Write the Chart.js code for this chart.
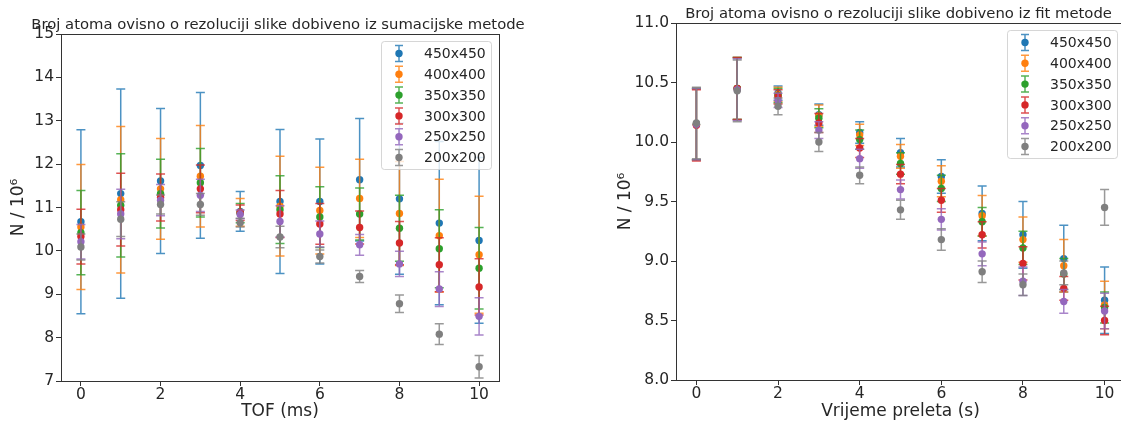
<!DOCTYPE html>
<html><head><meta charset="utf-8">
<script src="https://cdn.jsdelivr.net/npm/chart.js@4.4.1/dist/chart.umd.min.js"></script>
<style>
html,body{margin:0;padding:0;background:#fff;overflow:hidden;width:1121px;height:423px;position:relative;}
#c1{position:absolute;left:0;top:0;width:560px;height:423px;}
#c2{position:absolute;left:560px;top:0;width:600px;height:423px;}
</style></head><body>
<canvas id="c1" width="560" height="423"></canvas>
<canvas id="c2" width="600" height="423"></canvas>
<script>
// ---------- DATA ----------
const xValues = [0, 1, 2, 3, 4, 5, 6, 7, 8, 9, 10];
const xTicks = [0, 2, 4, 6, 8, 10];
const seriesLabels = ['450x450', '400x400', '350x350', '300x300', '250x250', '200x200'];
const seriesColors = ['#1f77b4', '#ff7f0e', '#2ca02c', '#d62728', '#9467bd', '#7f7f7f'];

// Left: summation method (N / 10^6)
const sum450 = [10.67, 11.32, 11.61, 11.97, 10.91, 11.14, 11.14, 11.64, 11.20, 10.64, 10.24];
const sum450Err = [2.12, 2.41, 1.67, 1.68, 0.46, 1.66, 1.44, 1.41, 1.74, 1.88, 1.91];
const sum400 = [10.55, 11.18, 11.43, 11.72, 10.89, 11.03, 10.93, 11.21, 10.86, 10.35, 9.91];
const sum400Err = [1.44, 1.69, 1.16, 1.17, 0.32, 1.15, 1.00, 0.90, 1.20, 1.30, 1.35];
const sum350 = [10.42, 11.05, 11.32, 11.57, 10.87, 10.95, 10.78, 10.85, 10.52, 10.05, 9.60];
const sum350Err = [0.97, 1.19, 0.79, 0.79, 0.22, 0.78, 0.70, 0.60, 0.76, 0.90, 0.94];
const sum300 = [10.33, 10.95, 11.23, 11.43, 10.88, 10.85, 10.62, 10.54, 10.18, 9.68, 9.17];
const sum300Err = [0.63, 0.84, 0.54, 0.55, 0.18, 0.54, 0.47, 0.38, 0.50, 0.62, 0.65];
const sum250 = [10.21, 10.85, 11.17, 11.28, 10.84, 10.68, 10.39, 10.14, 9.70, 9.12, 8.49];
const sum250Err = [0.40, 0.57, 0.36, 0.37, 0.10, 0.36, 0.30, 0.24, 0.29, 0.40, 0.43];
const sum200 = [10.09, 10.73, 11.07, 11.07, 10.65, 10.32, 9.87, 9.41, 8.78, 8.08, 7.33];
const sum200Err = [0.30, 0.40, 0.22, 0.25, 0.10, 0.25, 0.15, 0.14, 0.20, 0.24, 0.26];

// Right: fit method (N / 10^6)
const fit450 = [10.15, 10.45, 10.41, 10.23, 10.08, 9.91, 9.71, 9.40, 9.22, 9.02, 8.67];
const fit450Err = [0.30, 0.26, 0.06, 0.09, 0.09, 0.12, 0.14, 0.23, 0.28, 0.28, 0.28];
const fit400 = [10.15, 10.45, 10.40, 10.22, 10.06, 9.88, 9.67, 9.38, 9.18, 8.96, 8.63];
const fit400Err = [0.30, 0.26, 0.06, 0.09, 0.09, 0.10, 0.13, 0.17, 0.19, 0.22, 0.20];
const fit350 = [10.15, 10.45, 10.39, 10.20, 10.02, 9.82, 9.61, 9.33, 9.11, 8.89, 8.61];
const fit350Err = [0.30, 0.26, 0.06, 0.08, 0.08, 0.09, 0.11, 0.12, 0.14, 0.13, 0.13];
const fit300 = [10.14, 10.45, 10.38, 10.16, 9.95, 9.73, 9.51, 9.22, 8.98, 8.77, 8.50];
const fit300Err = [0.30, 0.26, 0.06, 0.08, 0.08, 0.08, 0.10, 0.11, 0.14, 0.10, 0.12];
const fit250 = [10.15, 10.44, 10.35, 10.10, 9.86, 9.60, 9.35, 9.06, 8.83, 8.66, 8.58];
const fit250Err = [0.30, 0.26, 0.06, 0.07, 0.08, 0.08, 0.09, 0.10, 0.12, 0.10, 0.15];
const fit200 = [10.16, 10.43, 10.30, 10.00, 9.72, 9.43, 9.18, 8.91, 8.80, 8.90, 9.45];
const fit200Err = [0.30, 0.26, 0.07, 0.08, 0.07, 0.08, 0.09, 0.09, 0.09, 0.10, 0.15];

const leftTitle = 'Broj atoma ovisno o rezoluciji slike dobiveno iz sumacijske metode';
const rightTitle = 'Broj atoma ovisno o rezoluciji slike dobiveno iz fit metode';
const leftXLabel = 'TOF (ms)';
const rightXLabel = 'Vrijeme preleta (s)';
const yLabel = 'N / 10\u2076';

// ---------- STYLE / HELPERS ----------
const FONT = "'DejaVu Sans', sans-serif";
const TEXT = '#262626';
function rgba(hex, a) {
  const n = parseInt(hex.slice(1), 16);
  return `rgba(${n >> 16},${(n >> 8) & 255},${n & 255},${a})`;
}
function makeDatasets(vals, errs) {
  return vals.map((v, i) => ({
    label: seriesLabels[i],
    data: xValues.map((x, j) => ({ x: x, y: v[j] })),
    errors: errs[i],
    errColor: rgba(seriesColors[i], 0.8),
    backgroundColor: seriesColors[i],
    borderColor: seriesColors[i],
    borderWidth: 0,
    pointRadius: 3.7,
    pointHoverRadius: 3.7,
    showLine: false,
    order: vals.length - i
  }));
}

const errorBarPlugin = {
  id: 'errbars',
  beforeDatasetDraw(chart, args) {
    const ds = chart.data.datasets[args.index];
    if (!ds.errors) return;
    const xs = chart.scales.x, ys = chart.scales.y, ctx = chart.ctx, a = chart.chartArea;
    ctx.save();
    ctx.beginPath(); ctx.rect(a.left, a.top, a.right - a.left, a.bottom - a.top); ctx.clip();
    ctx.strokeStyle = ds.errColor; ctx.lineWidth = 1.5;
    ds.data.forEach((p, j) => {
      const x = xs.getPixelForValue(p.x);
      const y1 = ys.getPixelForValue(p.y + ds.errors[j]);
      const y2 = ys.getPixelForValue(p.y - ds.errors[j]);
      ctx.beginPath();
      ctx.moveTo(x, y1); ctx.lineTo(x, y2);
      ctx.moveTo(x - 4.5, y1); ctx.lineTo(x + 4.5, y1);
      ctx.moveTo(x - 4.5, y2); ctx.lineTo(x + 4.5, y2);
      ctx.stroke();
    });
    ctx.restore();
  }
};

const decorPlugin = {
  id: 'decor',
  afterDraw(chart, args, opts) {
    const ctx = chart.ctx, a = chart.chartArea;
    ctx.save();
    // frame
    ctx.strokeStyle = '#333'; ctx.lineWidth = 1;
    ctx.strokeRect(Math.round(a.left) + 0.5, Math.round(a.top) + 0.5,
      Math.round(a.right - a.left), Math.round(a.bottom - a.top));
    // title
    ctx.fillStyle = TEXT; ctx.font = `14.8px ${FONT}`;
    ctx.textAlign = 'center'; ctx.textBaseline = 'alphabetic';
    ctx.fillText(opts.title, (a.left + a.right) / 2 - 2, a.top - 5);
    // legend
    const w = 110, h = 128, rowH = 20.8;
    const bx = a.right - 8 - w, by = a.top + 7;
    ctx.fillStyle = 'rgba(255,255,255,0.8)';
    ctx.strokeStyle = 'rgba(204,204,204,0.8)';
    ctx.beginPath();
    ctx.roundRect(bx + 0.5, by + 0.5, w, h, 3);
    ctx.fill(); ctx.stroke();
    ctx.font = `14px ${FONT}`; ctx.textAlign = 'left'; ctx.textBaseline = 'middle';
    chart.data.datasets.forEach((ds, i) => {
      const cy = by + 12.5 + i * rowH;
      const sx = bx + 18;
      ctx.strokeStyle = ds.errColor; ctx.lineWidth = 1.5;
      ctx.beginPath();
      ctx.moveTo(sx, cy - 8); ctx.lineTo(sx, cy + 8);
      ctx.moveTo(sx - 4, cy - 8); ctx.lineTo(sx + 4, cy - 8);
      ctx.moveTo(sx - 4, cy + 8); ctx.lineTo(sx + 4, cy + 8);
      ctx.stroke();
      ctx.fillStyle = ds.backgroundColor;
      ctx.beginPath(); ctx.arc(sx, cy, 3.7, 0, Math.PI * 2); ctx.fill();
      ctx.fillStyle = TEXT;
      ctx.fillText(ds.label, bx + 43, cy + 1);
    });
    ctx.restore();
  }
};

function makeChart(id, datasets, cfg) {
  return new Chart(document.getElementById(id), {
    type: 'scatter',
    data: { datasets },
    plugins: [errorBarPlugin, decorPlugin],
    options: {
      responsive: false,
      animation: false,
      events: [],
      layout: { padding: cfg.padding },
      plugins: {
        legend: { display: false },
        tooltip: { enabled: false },
        title: { display: false },
        decor: { title: cfg.title }
      },
      scales: {
        x: {
          type: 'linear', min: -0.5, max: 10.5,
          afterBuildTicks: s => { s.ticks = xTicks.map(v => ({ value: v })); },
          afterFit: s => { s.height = cfg.xH; },
          grid: { drawOnChartArea: false, drawTicks: true, tickLength: 5, color: '#333' },
          border: { display: false },
          ticks: { color: TEXT, font: { family: FONT, size: 15.5 }, padding: 0, maxRotation: 0 },
          title: { display: true, text: cfg.xLabel, color: TEXT, font: { family: FONT, size: 17 }, padding: { top: 0, bottom: 1 } }
        },
        y: {
          type: 'linear', min: cfg.yMin, max: cfg.yMax,
          afterBuildTicks: s => { s.ticks = cfg.yTicks.map(v => ({ value: v })); },
          afterFit: s => { s.width = cfg.yW; },
          grid: { drawOnChartArea: false, drawTicks: true, tickLength: 5, color: '#333' },
          border: { display: false },
          ticks: { color: TEXT, font: { family: FONT, size: 15.5 }, padding: 2, callback: cfg.yFmt },
          title: { display: true, text: yLabel, color: TEXT, font: { family: FONT, size: 17 }, padding: { top: cfg.yTitlePad, bottom: 0 } }
        }
      }
    }
  });
}

const leftYTicks = [7, 8, 9, 10, 11, 12, 13, 14, 15];
const rightYTicks = [8.0, 8.5, 9.0, 9.5, 10.0, 10.5, 11.0];

makeChart('c1',
  makeDatasets([sum450, sum400, sum350, sum300, sum250, sum200],
    [sum450Err, sum400Err, sum350Err, sum300Err, sum250Err, sum200Err]),
  { padding: { left: 0, top: 34, right: 61, bottom: 0 }, xH: 42, yW: 61, yTitlePad: 8,
    yMin: 7, yMax: 15, yTicks: leftYTicks, yFmt: v => String(v),
    title: leftTitle, xLabel: leftXLabel });

makeChart('c2',
  makeDatasets([fit450, fit400, fit350, fit300, fit250, fit200],
    [fit450Err, fit400Err, fit350Err, fit300Err, fit250Err, fit200Err]),
  { padding: { left: 40, top: 23, right: 35, bottom: 0 }, xH: 43, yW: 76, yTitlePad: 15,
    yMin: 8, yMax: 11, yTicks: rightYTicks, yFmt: v => v.toFixed(1),
    title: rightTitle, xLabel: rightXLabel });
</script>
</body></html>
